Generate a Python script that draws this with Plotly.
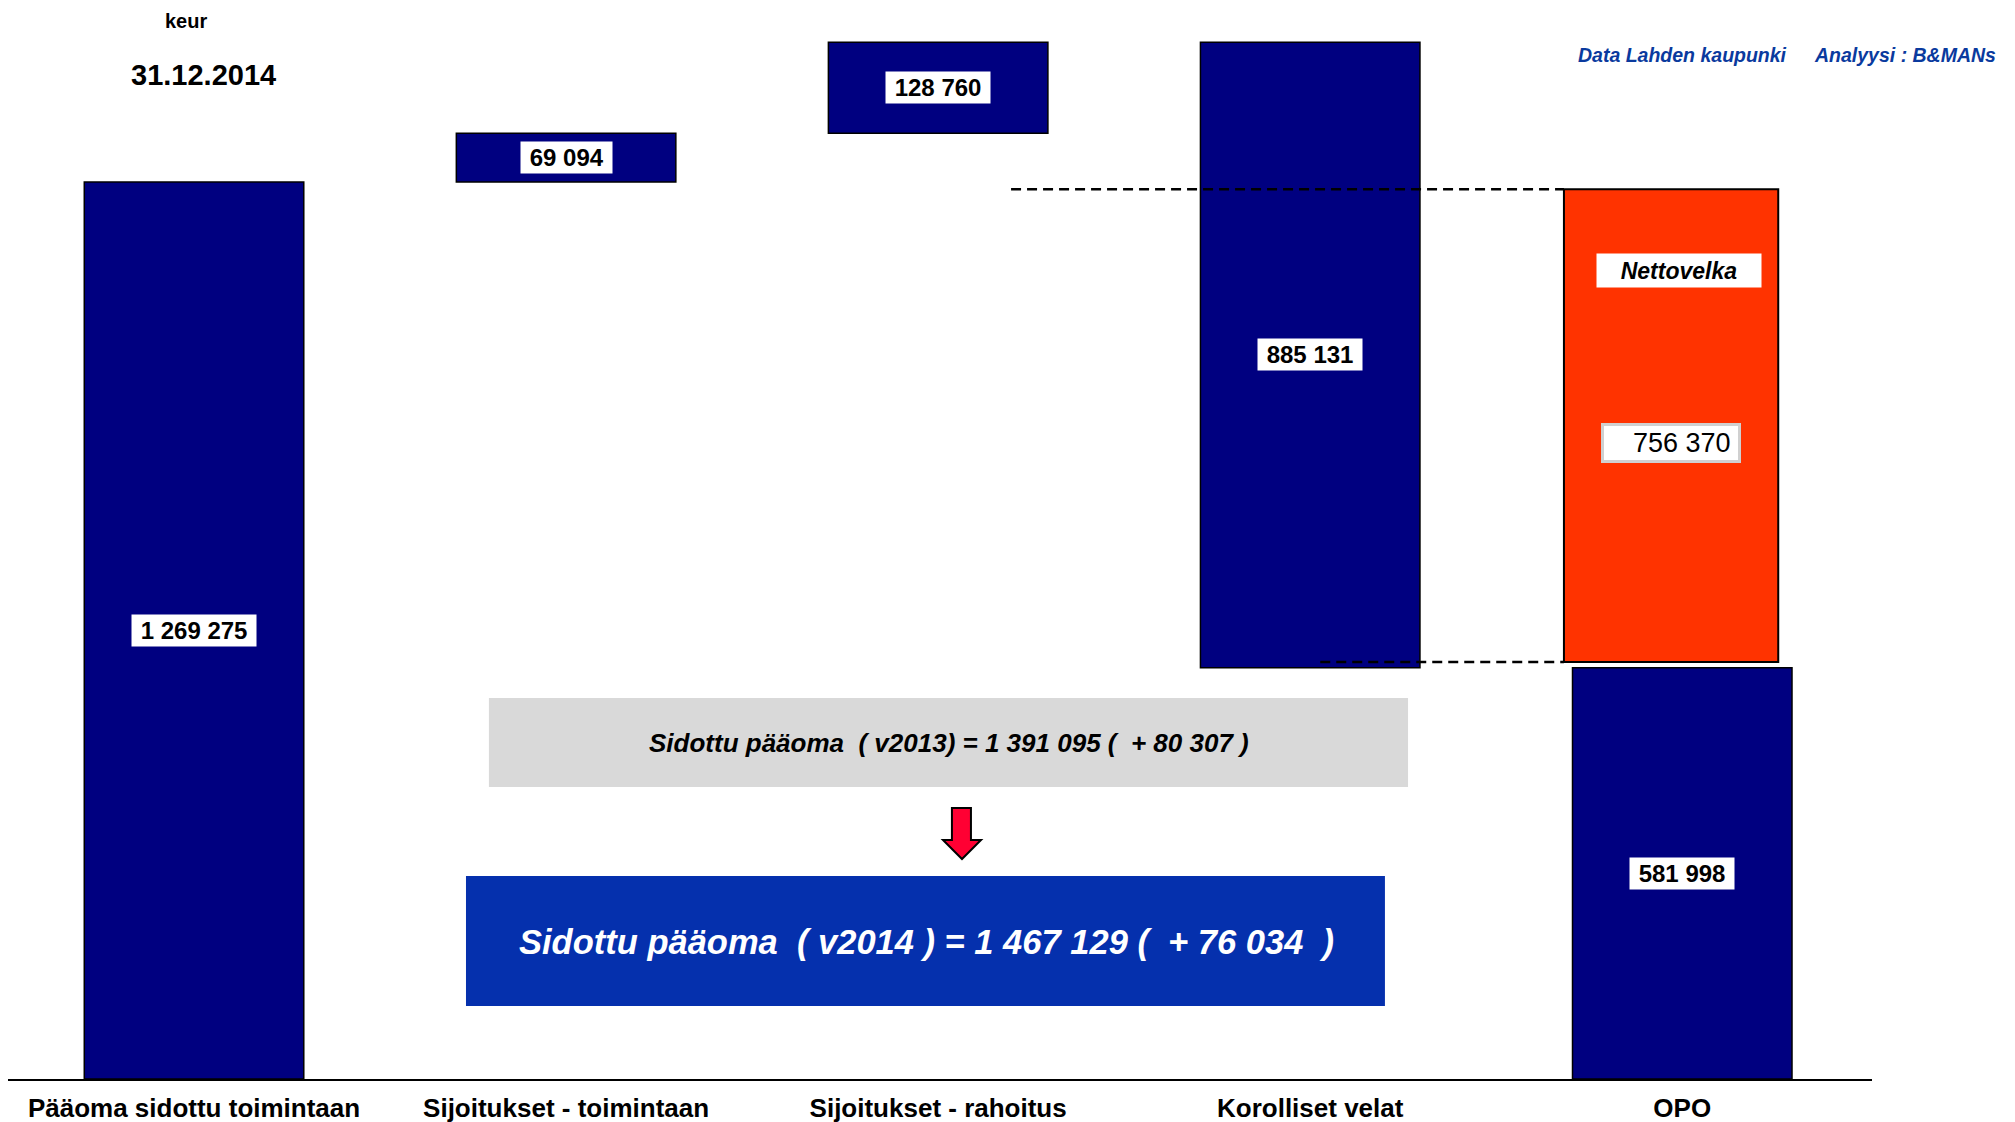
import plotly.graph_objects as go

# ---- data (keur, 31.12.2014) ----
categories = ["Pääoma sidottu toimintaan", "Sijoitukset - toimintaan",
              "Sijoitukset - rahoitus", "Korolliset velat", "OPO"]
paaoma = 1269275
sijoitukset_toim = 69094
sijoitukset_rah = 128760
korolliset_velat = 885131
opo = 581998
nettovelka = 756370
# Nettovelka box as drawn in the picture (estimated extent, keur)
nettovelka_box = [590000, 1259000]
value_labels = ["1 269 275", "69 094", "128 760", "885 131", "581 998"]
nettovelka_label = "756 370"
sidottu_2013 = "Sidottu pääoma\u00a0\u00a0( v2013) = 1 391 095 (\u00a0\u00a0+ 80 307 )"
sidottu_2014 = "Sidottu pääoma\u00a0\u00a0( v2014 ) = 1 467 129 (\u00a0\u00a0+ 76 034\u00a0\u00a0)"

total = paaoma + sijoitukset_toim + sijoitukset_rah
values = [paaoma, sijoitukset_toim, sijoitukset_rah, korolliset_velat, opo]
bases = [0, paaoma, paaoma + sijoitukset_toim, total - korolliset_velat, 0]

NAVY = "#000080"
ORANGE = "#FF3300"
FONT = "Arial, Liberation Sans, sans-serif"

fig = go.Figure()
fig.add_trace(go.Bar(
    x=categories, y=values, base=bases, width=0.59,
    marker=dict(color=NAVY, line=dict(color="black", width=1.5)),
    hoverinfo="skip", showlegend=False,
))
fig.add_trace(go.Bar(
    x=[categories[4]], y=[nettovelka_box[1] - nettovelka_box[0]], base=[nettovelka_box[0]],
    width=0.576, offset=-0.318,
    marker=dict(color=ORANGE, line=dict(color="black", width=2)),
    hoverinfo="skip", showlegend=False,
))

annotations = []
for c, b, v, t in zip(categories, bases, values, value_labels):
    annotations.append(dict(
        x=c, y=b + v / 2, xref="x", yref="y", text="\u00a0" + t + "\u00a0",
        showarrow=False, bgcolor="white", borderpad=2,
        xanchor="center", yanchor="middle",
        font=dict(family=FONT, size=24, color="black", weight="bold"),
    ))

nh = nettovelka_box[1] - nettovelka_box[0]
annotations.append(dict(
    x=3.99, y=nettovelka_box[1] - 0.171 * nh, xref="x", yref="y",
    text="Nettovelka", showarrow=False, bgcolor="white", borderpad=0,
    width=164, height=33, xanchor="center", yanchor="middle",
    font=dict(family=FONT, size=23, color="black", weight="bold", style="italic"),
))
annotations.append(dict(
    x=3.97, y=nettovelka_box[1] - 0.537 * nh, xref="x", yref="y",
    text=nettovelka_label + "\u00a0", showarrow=False, bgcolor="white",
    bordercolor="#d0d0d0", borderwidth=3, borderpad=0, width=134, height=34, align="right",
    xanchor="center", yanchor="middle",
    font=dict(family=FONT, size=27, color="black"),
))

annotations += [
    dict(x=0.0955, y=1.0050, xref="paper", yref="paper", text="keur", showarrow=False,
         xanchor="center", yanchor="middle",
         font=dict(family=FONT, size=20, color="black", weight="bold")),
    dict(x=0.1049, y=0.9535, xref="paper", yref="paper", text="31.12.2014", showarrow=False,
         xanchor="center", yanchor="middle",
         font=dict(family=FONT, size=29, color="black", weight="bold")),
    dict(x=0.9555, y=0.9725, xref="paper", yref="paper", xanchor="right", yanchor="middle",
         text="Data Lahden kaupunki", showarrow=False,
         font=dict(family=FONT, size=19.5, color="#0A3A9E", weight="bold", style="italic")),
    dict(x=0.9678, y=0.9725, xref="paper", yref="paper", xanchor="left", yanchor="middle",
         text="Analyysi : B&MANs", showarrow=False,
         font=dict(family=FONT, size=19.5, color="#0A3A9E", weight="bold", style="italic")),
    dict(x=0.5048, y=0.3191, xref="paper", yref="paper", text=sidottu_2013, showarrow=False,
         xanchor="center", yanchor="middle",
         font=dict(family=FONT, size=26, color="black", weight="bold", style="italic")),
    dict(x=0.4930, y=0.1301, xref="paper", yref="paper", text=sidottu_2014, showarrow=False,
         xanchor="center", yanchor="middle",
         font=dict(family=FONT, size=34.5, color="white", weight="bold", style="italic")),
]

shapes = [
    dict(type="rect", xref="paper", yref="paper", x0=0.2580, x1=0.7511, y0=0.2773, y1=0.3618,
         fillcolor="#D9D9D9", line=dict(width=0), layer="below"),
    dict(type="rect", xref="paper", yref="paper", x0=0.2457, x1=0.7387, y0=0.0693, y1=0.1928,
         fillcolor="#0530AD", line=dict(width=0), layer="below"),
    dict(type="path", xref="paper", yref="paper",
         path="M 0.5064 0.2574 L 0.5166 0.2574 L 0.5166 0.2270 L 0.5220 0.2270 "
              "L 0.5118 0.2089 L 0.5016 0.2270 L 0.5064 0.2270 Z",
         fillcolor="#FF0033", line=dict(color="black", width=2)),
    dict(type="line", xref="x", yref="y", x0=2.196, x1=3.682,
         y0=nettovelka_box[1], y1=nettovelka_box[1],
         line=dict(color="black", width=2.5, dash="10px,6px"), layer="above"),
    dict(type="line", xref="x", yref="y", x0=3.027, x1=3.682,
         y0=nettovelka_box[0], y1=nettovelka_box[0],
         line=dict(color="black", width=2.5, dash="10px,6px"), layer="above"),
]

fig.update_layout(
    width=2007, height=1114,
    margin=dict(l=0, r=143, t=18, b=43, autoexpand=False),
    paper_bgcolor="white", plot_bgcolor="white",
    barmode="overlay", showlegend=False,
    annotations=annotations, shapes=shapes,
    xaxis=dict(type="category", range=[-0.5, 4.51], showgrid=False, zeroline=False,
               showline=True, linecolor="black", linewidth=2, ticks="", automargin=False,
               tickfont=dict(family=FONT, size=26, color="black", weight="bold"),
               ticklabelstandoff=5, fixedrange=True),
    yaxis=dict(range=[0, 1490000], visible=False, showgrid=False, zeroline=False,
               automargin=False, fixedrange=True),
)

fig.write_html("out.html", config={"displayModeBar": False})
